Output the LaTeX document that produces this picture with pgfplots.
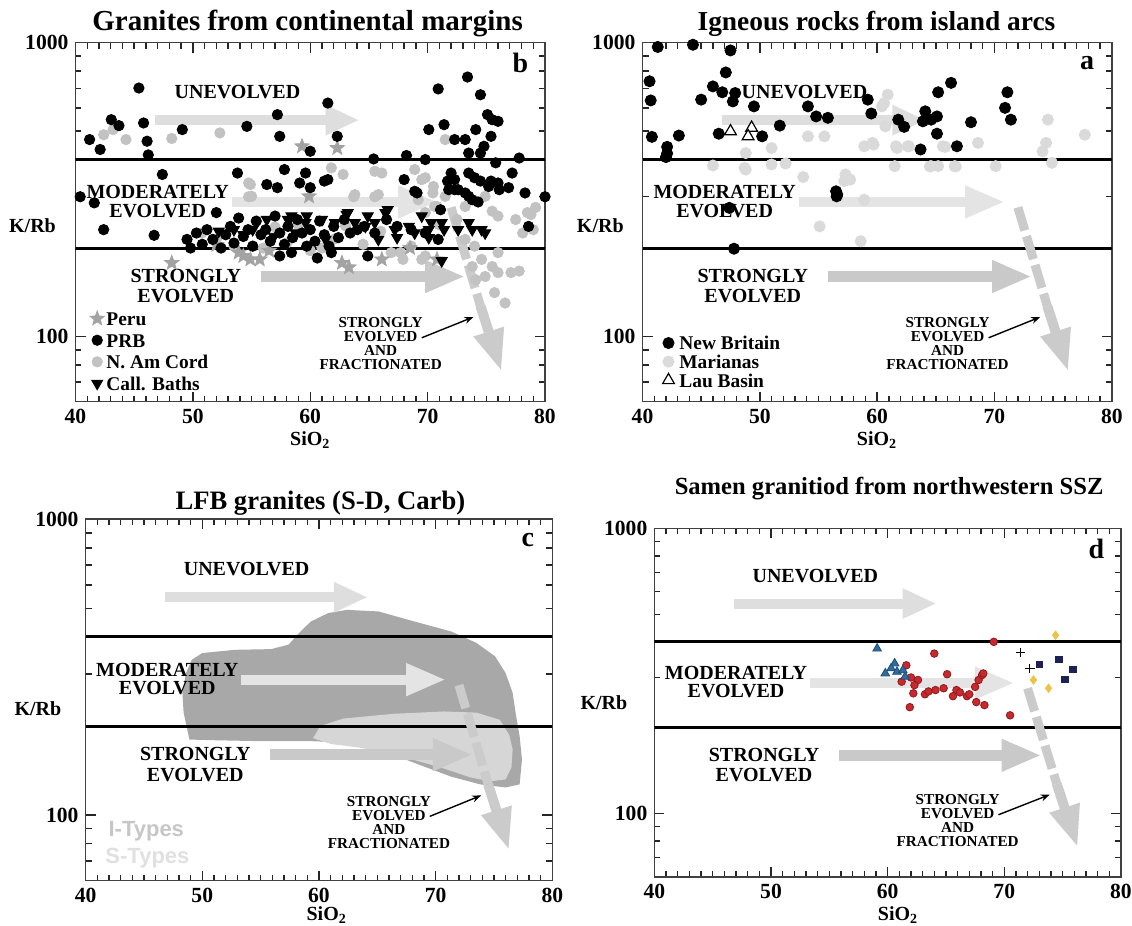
\documentclass[border=0pt]{standalone}
\usepackage{fontspec}
\setmainfont{Liberation Serif}
\newfontfamily\sansbold{Liberation Sans}
\usepackage{pgfplots}
\pgfplotsset{compat=1.18}
\usetikzlibrary{arrows.meta}

\definecolor{namgray}{HTML}{C2C2C2}
\definecolor{perugray}{HTML}{A3A3A3}
\definecolor{margray}{HTML}{DADADA}
\definecolor{arrowA}{HTML}{DEDEDE}
\definecolor{arrowB}{HTML}{E4E4E4}
\definecolor{arrowC}{HTML}{C9C9C9}
\definecolor{arrowD}{HTML}{CBCBCB}
\definecolor{itype}{HTML}{A8A8A8}
\definecolor{stype}{HTML}{D6D6D6}
\definecolor{itypetext}{HTML}{C6C6C6}
\definecolor{stypetext}{HTML}{E0E0E0}
\definecolor{sred}{HTML}{C9282D}
\definecolor{sredd}{HTML}{8E1B1F}
\definecolor{sblue}{HTML}{2F6B9C}
\definecolor{sblued}{HTML}{1F4F7A}
\definecolor{snavy}{HTML}{1C2258}
\definecolor{syellow}{HTML}{E8C547}

\newcommand{\fsz}[2]{\fontsize{#1}{#2}\selectfont}

% filled five-pointed star
\pgfdeclareplotmark{fstar}{%
  \pgfpathmoveto{\pgfpointpolar{90}{\pgfplotmarksize}}%
  \pgfpathlineto{\pgfpointpolar{126}{0.42\pgfplotmarksize}}%
  \pgfpathlineto{\pgfpointpolar{162}{\pgfplotmarksize}}%
  \pgfpathlineto{\pgfpointpolar{198}{0.42\pgfplotmarksize}}%
  \pgfpathlineto{\pgfpointpolar{234}{\pgfplotmarksize}}%
  \pgfpathlineto{\pgfpointpolar{270}{0.42\pgfplotmarksize}}%
  \pgfpathlineto{\pgfpointpolar{306}{\pgfplotmarksize}}%
  \pgfpathlineto{\pgfpointpolar{342}{0.42\pgfplotmarksize}}%
  \pgfpathlineto{\pgfpointpolar{18}{\pgfplotmarksize}}%
  \pgfpathlineto{\pgfpointpolar{54}{0.42\pgfplotmarksize}}%
  \pgfpathclose
  \pgfusepathqfillstroke
}

% settings shared by the four panels
\pgfplotsset{
  scale only axis,
  xmin=40, xmax=80, ymin=60, ymax=1000,
  xtick={40,50,60,70,80},
  minor xtick={41,42,43,44,45,46,47,48,49,51,52,53,54,55,56,57,58,59,
               61,62,63,64,65,66,67,68,69,71,72,73,74,75,76,77,78,79},
  ytick={100,1000}, yticklabels={100,1000},
  minor ytick={60,70,80,90,200,300,400,500,600,700,800,900},
  xmajorticks=true, xminorticks=true, ymajorticks=true, yminorticks=true,
  xtick pos=both, ytick pos=both,
  tick align=inside, major tick length=5pt, minor tick length=3pt,
  axis line style={line width=0.8pt, black!75},
  every tick/.style={black!85, line width=0.7pt},
  xtick style={draw=black!85, line width=0.7pt},
  tick label style={font=\bfseries\fsz{10.8}{12}},
  /pgf/number format/assume math mode=true,
  legend image code/.code={\draw[#1] plot coordinates {(0pt,0pt)};},
  legend style={draw=none, fill=none, inner sep=0pt, anchor=north west,
    font=\bfseries\fsz{9.7}{11}, cells={anchor=west},
    nodes={inner sep=1pt, text height=6.8pt, text depth=0pt}},
}

% K/Rb evolution fields, trend arrows and their captions
\newcommand{\evolutionguide}{%
  \addplot[black, line width=1.5pt, forget plot] coordinates {(40,400) (80,400)};
  \addplot[black, line width=1.5pt, forget plot] coordinates {(40,200) (80,200)};
  \draw[arrowA, line width=5pt, -{Triangle[length=17pt,width=14pt]}] (axis cs:46.8,545) -- (axis cs:64.2,545);
  \draw[arrowB, line width=5pt, -{Triangle[length=20pt,width=15pt]}] (axis cs:53.3,287) -- (axis cs:70.9,287);
  \draw[arrowC, line width=5.5pt, -{Triangle[length=20pt,width=15pt]}] (axis cs:55.8,160) -- (axis cs:73.2,160);
  \draw[arrowD, line width=4.5pt, dash pattern=on 12pt off 3pt] (axis cs:72.0,275) -- (axis cs:74.5,127);
  \draw[arrowD, line width=5pt, -{Triangle[length=21pt,width=14.5pt]}] (axis cs:74.5,127) -- (axis cs:76.3,76);
  \draw[black, line width=0.7pt, -{Stealth[length=4.5pt,width=3.5pt]}] (axis cs:69.5,99) -- (axis cs:73.9,116.5);
  \node[font=\bfseries\fsz{10}{12}] at (axis cs:53.8,680) {UNEVOLVED};
  \node[font=\bfseries\fsz{10}{12}] at (axis cs:47.0,310) {MODERATELY};
  \node[font=\bfseries\fsz{10}{12}] at (axis cs:47.0,268) {EVOLVED};
  \node[font=\bfseries\fsz{10}{12}] at (axis cs:49.4,161) {STRONGLY};
  \node[font=\bfseries\fsz{10}{12}] at (axis cs:49.4,137) {EVOLVED};
  \node[font=\bfseries\fsz{7.6}{7}, align=center] at (axis cs:66.0,94.5) {STRONGLY\\EVOLVED\\AND\\FRACTIONATED};
}

\begin{document}
\begin{tikzpicture}[x=1pt,y=1pt]
\useasboundingbox (0,0) rectangle (566,463);

%% (b) granites from continental margins
\begin{semilogyaxis}[anchor=south west, at={(37.75pt,262.15pt)}, width=234.75pt, height=179.5pt,
  legend style={at={(0.030,0.257)}, row sep=2pt}]
  \evolutionguide
  \addplot[only marks, mark=*, mark size=2.6pt, draw=namgray, fill=namgray, forget plot] coordinates {
    (42.4,486) (43.2,506) (44.3,468) (48.2,472) (52.3,493) (54.9,329) (55.0,300) (61.8,375)
    (62.8,356) (65.5,365) (63.8,304) (65.8,304) (68.9,370) (69.8,347) (70.5,324) (71.5,300)
    (73.2,277) (74.9,300) (75.5,267) (76.0,257) (69.2,292) (70.6,277) (71.5,468) (73.2,214)
    (74.0,203) (74.6,183) (75.5,173) (76.0,165) (74.9,160) (73.8,173) (76.0,193) (68.6,203)
    (69.8,188) (67.9,183) (66.9,193) (74.1,156) (75.7,141) (76.6,130) (77.8,167) (77.1,165)
    (78.5,264) (78.1,225) (50.75,225) (52.0,214) (53.5,203) (55.1,203) (63.7,299) (65.5,299)
    (66.1,360) (69.5,342) (70.45,308) (70.8,277) (69.8,264) (67.7,193) (69.5,183) (54.75,333)
    (54.75,299) (57.0,236) (58.0,208) (60.0,196) (62.0,214) (64.5,206) (66.0,228) (56.0,200)
    (59.0,240) (61.0,200) (63.0,238) (79.0,231) (78.8,260) (72.5,250) (71.0,240) (77.5,250)
    (79.2,275)};
  \addplot[only marks, mark=fstar, mark size=3.8pt, draw=perugray, fill=perugray, forget plot] coordinates {
    (48.2,178) (59.3,444) (62.3,438) (53.9,193) (54.3,188) (54.9,183) (55.7,183) (56.5,196)
    (62.7,178) (63.3,172) (66.1,183) (68.5,200) (70.8,183) (59.9,300) (52.0,205)};
  \addplot[only marks, mark=*, mark size=2.6pt, draw=black, fill=black, forget plot] coordinates {
    (41.2,468) (42.1,433) (43.05,547) (43.7,522) (45.4,701) (45.8,533) (46.1,462) (46.2,415)
    (49.1,506) (40.4,299) (41.6,285) (42.4,231) (46.7,221) (47.4,356) (53.8,360) (54.6,519)
    (57.2,569) (57.4,480) (57.8,370) (59.6,360) (60.0,427) (61.5,623) (62.3,480) (61.5,342)
    (65.4,402) (68.2,413) (69.8,400) (70.9,696) (73.4,764) (74.5,665) (70.1,506) (71.4,526)
    (72.3,468) (73.2,468) (74.1,506) (75.1,569) (75.5,547) (74.8,444) (75.4,480) (73.5,421)
    (74.5,421) (75.8,390) (77.8,405) (77.2,360) (78.3,308) (80.0,299) (78.6,237) (71.7,338)
    (72.3,316) (73.2,308) (73.8,292) (74.5,338) (75.4,338) (76.1,316) (76.9,321) (72.0,360)
    (73.5,360) (71.1,270) (68.0,342) (69.1,308) (56.3,329) (57.2,321) (59.1,333) (60.0,321)
    (61.2,338) (57.4,188) (58.4,193) (60.6,185) (61.8,193) (64.9,188) (76.0,540) (68.9,312)
    (72.3,342) (74.0,347) (75.2,324) (76.0,333) (72.6,316) (73.5,300) (74.3,287) (71.8,316)
    (49.5,214) (49.8,200) (50.3,225) (50.8,206) (51.2,231) (51.7,214) (52.0,264) (52.4,200)
    (52.8,222) (53.2,237) (53.5,208) (53.9,253) (54.3,219) (54.7,231) (55.1,203) (55.4,247)
    (55.8,222) (56.2,231) (56.6,211) (57.0,257) (57.4,225) (57.8,206) (58.1,237) (58.5,217)
    (58.9,250) (59.3,225) (59.7,203) (60.0,231) (60.4,211) (60.8,247) (61.2,222) (61.6,203)
    (62.0,237) (62.4,217) (62.9,250) (63.4,225) (64.0,231) (64.6,237) (65.5,225) (66.5,250)
    (67.4,237) (68.6,231) (69.8,225) (70.9,214)};
  \addplot[only marks, mark=triangle*, mark size=3.2pt, draw=black, fill=black, mark options={rotate=180}, forget plot] coordinates {
    (53.5,231) (55.1,231) (56.3,250) (56.9,219) (58.1,250) (58.4,257) (58.75,225) (59.6,244)
    (59.7,257) (61.0,250) (61.3,214) (62.1,244) (63.1,260) (63.2,264) (63.8,244) (64.7,237)
    (64.9,257) (65.5,244) (65.8,214) (66.4,264) (66.6,270) (67.2,231) (67.4,217) (68.4,237)
    (68.9,225) (69.5,257) (70.1,231) (70.1,217) (70.3,244) (71.2,244) (71.4,231) (72.6,231)
    (73.5,244) (73.8,231) (74.6,231) (74.9,225) (71.2,181) (52.2,228) (54.3,222)};
  \addlegendimage{only marks, mark=fstar, mark size=3.8pt, draw=perugray, fill=perugray}
  \addlegendentry{Peru}
  \addlegendimage{only marks, mark=*, mark size=2.6pt, draw=black, fill=black}
  \addlegendentry{PRB}
  \addlegendimage{only marks, mark=*, mark size=2.6pt, draw=namgray, fill=namgray}
  \addlegendentry{N. Am Cord}
  \addlegendimage{only marks, mark=triangle*, mark size=3.2pt, draw=black, fill=black, mark options={rotate=180}}
  \addlegendentry{Call. Baths}
  \node[font=\bfseries\fsz{14}{14}] at (axis cs:77.9,850) {b};
\end{semilogyaxis}

%% (a) igneous rocks from island arcs
\begin{semilogyaxis}[anchor=south west, at={(321.25pt,262.15pt)}, width=234.65pt, height=179.5pt,
  legend style={at={(0.042,0.189)}, row sep=0.5pt, column sep=1.5pt}]
  \evolutionguide
  \addplot[only marks, mark=*, mark size=2.8pt, draw=margray, fill=margray, forget plot] coordinates {
    (46.0,382) (48.8,421) (48.8,370) (51.0,438) (51.0,385) (52.2,388) (53.7,349) (55.1,237)
    (54.1,480) (55.5,480) (57.3,356) (48.7,375) (57.2,338) (58.6,211) (58.9,292) (58.9,444)
    (59.6,456) (60.9,665) (60.6,623) (60.7,519) (61.6,444) (61.5,380) (62.6,444) (64.6,380)
    (65.2,380) (66.6,380) (65.6,444) (68.6,456) (70.1,380) (74.55,547) (74.4,456) (74.1,427)
    (74.9,390) (77.7,486) (60.4,607) (59.7,450) (61.7,438) (62.7,444) (64.5,379) (66.7,379)
    (65.8,442) (57.7,342)};
  \addplot[only marks, mark=*, mark size=2.8pt, draw=black, fill=black, forget plot] coordinates {
    (41.3,967) (44.3,984) (47.5,941) (47.1,792) (40.6,739) (40.7,636) (46.0,710) (46.8,678)
    (47.9,674) (47.7,631) (45.0,640) (49.5,607) (51.7,522) (46.5,490) (50.2,480) (40.8,478)
    (43.1,483) (42.1,442) (42.0,408) (42.1,420) (54.1,607) (54.8,561) (55.8,555) (56.5,312)
    (56.6,304) (56.55,300) (47.4,274) (47.8,199) (59.2,640) (59.5,574) (61.8,547) (62.3,517)
    (65.2,678) (66.3,730) (64.1,584) (63.9,540) (65.1,561) (64.6,547) (65.1,490) (68.0,536)
    (63.7,433) (66.8,444) (71.1,678) (70.9,600) (71.4,547)};
  \addplot[only marks, mark=triangle*, mark size=3.4pt, draw=black, fill=white, line width=0.6pt, forget plot] coordinates {
    (47.5,499) (49.3,513) (49.0,480)};
  \addlegendimage{only marks, mark=*, mark size=2.8pt, draw=black, fill=black}
  \addlegendentry{New Britain}
  \addlegendimage{only marks, mark=*, mark size=2.8pt, draw=margray, fill=margray}
  \addlegendentry{Marianas}
  \addlegendimage{only marks, mark=triangle*, mark size=3.4pt, draw=black, fill=white, line width=0.6pt}
  \addlegendentry{Lau Basin}
  \node[font=\bfseries\fsz{14}{14}] at (axis cs:77.9,850) {a};
\end{semilogyaxis}

%% (c) LFB granites
\begin{semilogyaxis}[anchor=south west, at={(42.8pt,22.65pt)}, width=233.35pt, height=180.7pt]
  \addplot[fill=itype, draw=none, forget plot] coordinates {
    (48.9,180) (48.4,222) (48.3,259) (48.6,302) (49.1,335) (50.0,353) (52.8,362) (55.9,364)
    (57.4,377) (58.3,413) (59.3,451) (60.8,482) (62.4,494) (65.1,488) (68.2,451) (71.3,418)
    (73.5,382) (75.1,344) (76.0,302) (76.6,259) (76.9,216) (77.2,185) (77.4,154) (77.2,127)
    (76.0,124) (73.8,127) (71.3,135) (68.2,150) (65.1,167) (62.1,176) (59.0,178) (54.3,178)
    (51.2,179)} -- cycle;
  \addplot[fill=stype, draw=none, forget plot] coordinates {
    (59.5,182) (60.1,200) (62.1,212) (66.4,220) (70.7,224) (73.5,222) (75.5,210) (76.3,187)
    (76.6,167) (76.5,145) (76.0,132) (74.7,130) (73.0,134) (70.4,145) (67.0,158) (63.5,169)
    (61.0,174)} -- cycle;
  \evolutionguide
  \node[font=\sansbold\bfseries\fsz{11}{12}, text=itypetext] at (axis cs:45.2,88.3) {I-Types};
  \node[font=\sansbold\bfseries\fsz{11}{12}, text=stypetext] at (axis cs:45.3,71.8) {S-Types};
  \node[font=\bfseries\fsz{14}{14}] at (axis cs:77.9,850) {c};
\end{semilogyaxis}

%% (d) Samen granitoid
\begin{semilogyaxis}[anchor=south west, at={(327.2pt,24.6pt)}, width=233.25pt, height=174.2pt]
  \evolutionguide
  \addplot[only marks, mark=*, mark size=1.9pt, draw=sredd, fill=sred, line width=0.4pt] coordinates {
    (61.6,331) (64.0,364) (69.1,400) (61.2,290) (62.6,294) (62.3,282) (62.2,264) (63.2,262)
    (64.1,271) (64.8,275) (65.1,308) (65.9,271) (65.6,258) (66.8,258) (67.5,278) (67.8,294)
    (68.1,306) (68.2,310) (67.6,246) (68.3,240) (61.9,236) (70.5,221) (63.5,268) (66.2,266)
    (67.0,262) (62.0,300)};
  \addplot[only marks, mark=triangle*, mark size=2.5pt, draw=sblued, fill=sblue] coordinates {
    (59.1,379) (60.6,336) (60.3,323) (59.8,310) (60.8,314) (61.5,302) (61.3,318)};
  \addplot[only marks, mark=+, mark size=2.3pt, draw=black, line width=0.5pt] coordinates {
    (71.4,366) (72.2,323)};
  \addplot[only marks, mark=square*, mark size=1.6pt, draw=snavy, fill=snavy] coordinates {
    (73.0,334) (74.7,347) (75.9,320) (75.2,295)};
  \addplot[only marks, mark=diamond*, mark size=2.1pt, draw=syellow, fill=syellow] coordinates {
    (74.4,422) (72.5,294) (73.8,275)};
  \node[font=\bfseries\fsz{14}{14}] at (axis cs:77.9,850) {d};
\end{semilogyaxis}

%% titles and axis labels
\node[font=\bfseries\fsz{14.5}{15}, anchor=base] at (153.8,447.65) {Granites from continental margins};
\node[font=\bfseries\fsz{13.7}{15}, anchor=base] at (438.25,447.65) {Igneous rocks from island arcs};
\node[font=\bfseries\fsz{13.3}{15}, anchor=base] at (160.2,208) {LFB granites (S-D, Carb)};
\node[font=\bfseries\fsz{12.3}{14}, anchor=base] at (444.55,215.5) {Samen granitiod from northwestern SSZ};

\node[font=\bfseries\fsz{10}{12}] at (16.25,350) {K/Rb};
\node[font=\bfseries\fsz{10}{12}] at (300.15,350) {K/Rb};
\node[font=\bfseries\fsz{10}{12}] at (18.95,108.85) {K/Rb};
\node[font=\bfseries\fsz{10}{12}] at (301.95,111.65) {K/Rb};

\node[font=\bfseries\fsz{10}{12}] at (155.15,243) {SiO\textsubscript{2}};
\node[font=\bfseries\fsz{10}{12}] at (438.5,243) {SiO\textsubscript{2}};
\node[font=\bfseries\fsz{10}{12}] at (163.35,5.5) {SiO\textsubscript{2}};
\node[font=\bfseries\fsz{10}{12}] at (449,5.5) {SiO\textsubscript{2}};
\end{tikzpicture}
\end{document}
